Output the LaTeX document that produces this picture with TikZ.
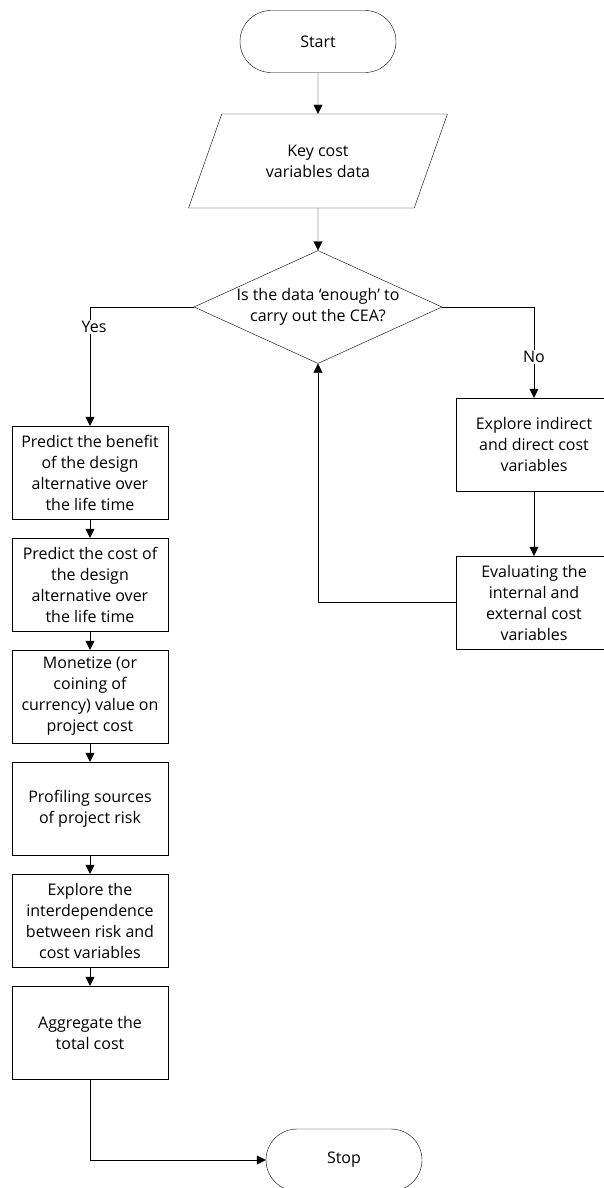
\documentclass[tikz,border=0pt]{standalone}
\usepackage{fontspec}
\setmainfont{Open Sans}
\usetikzlibrary{shapes.geometric, arrows.meta, positioning}
\tikzstyle{termNode} = [rectangle, minimum width=156pt, minimum height=62pt, rounded corners=31pt, text centered, draw=black]
\tikzstyle{ioNode} = [trapezium, trapezium left angle=64, trapezium right angle=116, trapezium stretches=true, minimum width=259pt, minimum height=94pt, text centered, draw=black]
\tikzstyle{decNode} = [diamond, minimum width=248pt, minimum height=113pt, inner sep=0pt, draw=black]
\tikzstyle{recNode} = [rectangle, minimum width=156pt, minimum height=93pt, align=center, draw=black]
\tikzstyle{arrow} = [->, >={Triangle[length=9pt,width=9pt]}, draw=black]
\tikzstyle{lab} = [fill=white, inner sep=1pt]

\begin{document}
\begin{tikzpicture}[x=1pt, y=1pt, node distance=112pt, font=\fontsize{16}{21}\selectfont]
        \useasboundingbox (0,0) rectangle (604,-1188);
        \node (start) [termNode] at (318,-41.5) {Start};
        \node (data) [ioNode, below of=start, yshift=-7.5pt, align=center] {Key cost\\variables data};
        \node (dec) [decNode, below of=data, yshift=-34pt, label={center:{\parbox{220pt}{\centering Is the data ‘enough’ to\\carry out the CEA?}}}] {};
        \node (b1) [recNode, below of=dec, xshift=-228pt, yshift=-53.5pt] {Predict the benefit\\of the design\\alternative over\\the life time};
        \node (b2) [recNode, below of=b1] {Predict the cost of\\the design\\alternative over\\the life time};
        \node (b3) [recNode, below of=b2] {Monetize (or\\coining of\\currency) value on\\project cost};
        \node (b4) [recNode, below of=b3] {Profiling sources\\of project risk};
        \node (b5) [recNode, below of=b4] {Explore the\\interdependence\\between risk and\\cost variables};
        \node (b6) [recNode, below of=b5] {Aggregate the\\total cost};
        \node (stop) [termNode, below of=b6, xshift=254pt, yshift=-15.5pt] {Stop};
        \node (r1) [recNode, below of=dec, xshift=216pt, yshift=-25.5pt] {Explore indirect\\and direct cost\\variables};
        \node (r2) [recNode, below of=r1, yshift=-46pt] {Evaluating the\\internal and\\external cost\\variables};

        \draw [arrow] (start) -- (data);
        \draw [arrow] (data) -- (dec);
        \draw [arrow] (dec.west) -| node[lab, pos=0.585, xshift=4pt] {Yes} (b1);
        \draw [arrow] (dec.east) -| node[lab, pos=0.775] {No} (r1);
        \draw [arrow] (r1) -- (r2);
        \draw [arrow] (r2.west) -| (dec.south);
        \draw [arrow] (b1) -- (b2);
        \draw [arrow] (b2) -- (b3);
        \draw [arrow] (b3) -- (b4);
        \draw [arrow] (b4) -- (b5);
        \draw [arrow] (b5) -- (b6);
        \draw [arrow] (b6) |- (stop);
    \end{tikzpicture}
\end{document}
